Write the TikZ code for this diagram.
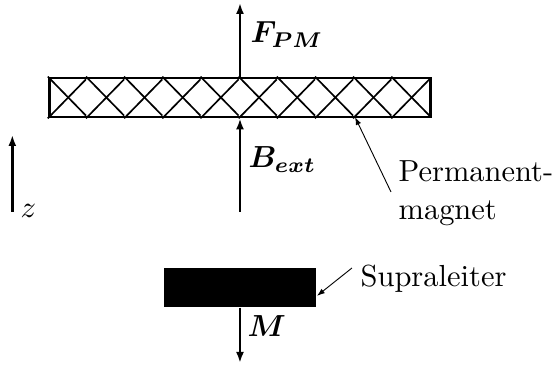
\documentclass[tikz,border=0pt]{standalone}
\usepackage{amsmath,amssymb}
\usepackage{tikz}
\usetikzlibrary{arrows.meta,positioning,calc}

\begin{document}
\begin{tikzpicture}[
    magnetbox/.style={rectangle, draw, line width=0.9pt, inner sep=0pt,
                      minimum width=4.4cm, minimum height=0.45cm},
    hatchline/.style={line width=0.55pt},
    force/.style={line width=0.9pt, -{Latex[length=3.6pt,width=2.6pt]}},
    pointer/.style={line width=0.3pt, -{Latex[length=2.6pt,width=1.8pt]}},
    lbl/.style={inner sep=0pt, anchor=base west}
  ]
    \useasboundingbox (-2.767,-1.787) rectangle (3.632,2.444);

    % Permanentmagnet (hatched) and Supraleiter (filled)
    \node[magnetbox] (pm) at (0,1.32) {};
    \foreach \i in {0,...,9}{
      \draw[hatchline] ($(pm.south west)+(\i*0.44,0)$) -- ++(0.44,0.45);
      \draw[hatchline] ($(pm.north west)+(\i*0.44,0)$) -- ++(0.44,-0.45);
    }
    \node[rectangle, fill=black, inner sep=0pt, minimum width=1.76cm,
          minimum height=0.45cm] (sl) at (0,-0.87) {};

    % arrow ends
    \coordinate (ftop) at (0,2.41);
    \coordinate (bbot) at (0,0);
    \coordinate (mbot) at (0,-1.741);
    \coordinate (zbot) at (-2.625,0);
    \coordinate (ztop) at (-2.625,0.888);

    \draw[force] (pm.north) -- (ftop);
    \draw[force] (bbot) -- (pm.south);
    \draw[force] (sl.south) -- (mbot);
    \draw[force] (zbot) -- (ztop);

    % labels
    \node[lbl] (fpm) at (0.115,1.949) {$\boldsymbol{F_{PM}}$};
    \node[lbl] (bext) at (0.092,0.507) {$\boldsymbol{B_{ext}}$};
    \node[lbl] (mlab) at (0.08,-1.441) {$\boldsymbol{M}$};
    \node[lbl] (zlab) at (-2.537,-0.069) {$z$};
    \node[lbl] (pmlab) at (1.822,0.346) {Permanent-};
    \node[lbl] (pmlab2) at (1.822,-0.092) {magnet};
    \node[lbl] (sllab) at (1.384,-0.865) {Supraleiter};

    \draw[pointer] (1.741,0.231) -- (1.326,1.095);
    \draw[pointer] (1.291,-0.646) -- (sl.east |- 0,-0.968);
  \end{tikzpicture}
\end{document}
